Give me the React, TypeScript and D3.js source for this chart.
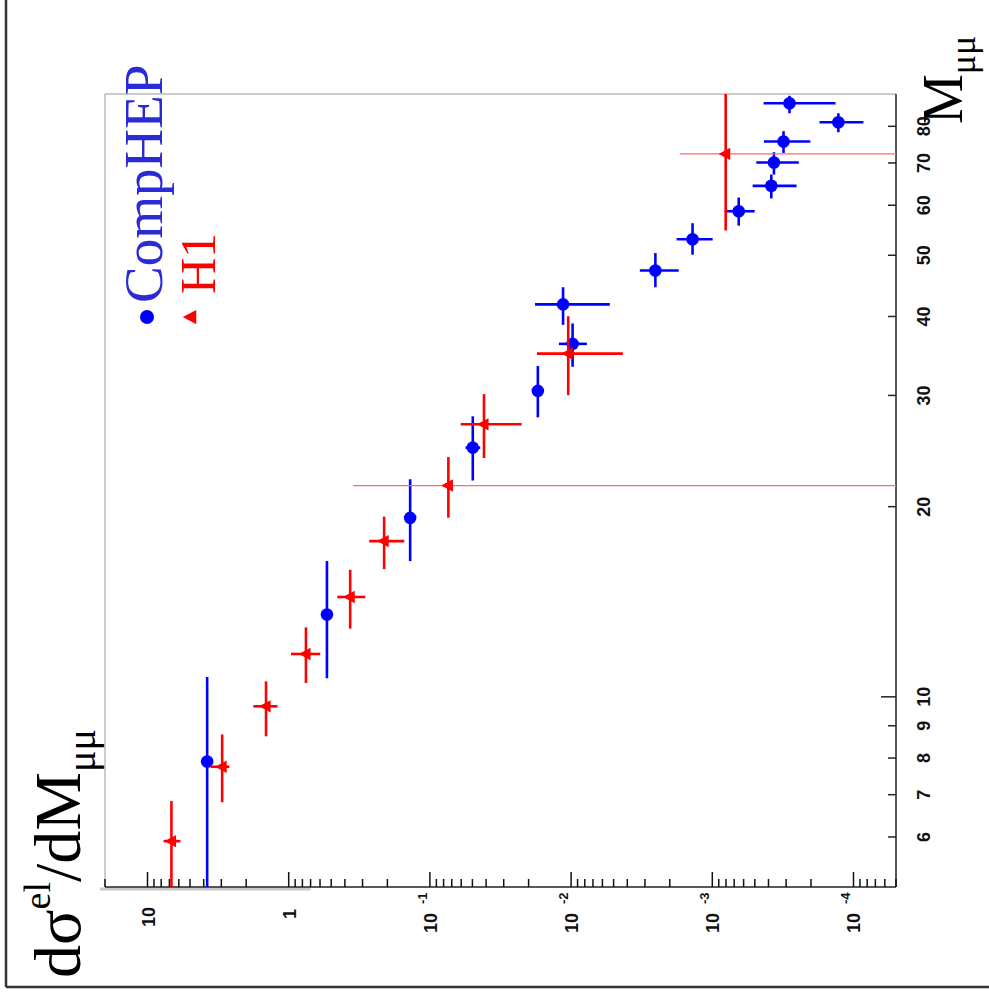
import { useEffect, useRef } from 'react';
import * as d3 from 'd3';

// CompHEP: M_mumu (bin centre and edges, GeV) and dsigma/dM with its errors
const compM = [7.9, 13.5, 19.2, 24.8, 30.5, 41.8, 36.2, 47.3, 53.0, 58.7, 64.4, 70.1, 75.7, 81.2, 87.0];
const compMLo = [4.5, 10.7, 16.4, 22.0, 27.7, 38.8, 33.3, 44.5, 50.1, 55.7, 61.5, 67.1, 72.6, 78.3, 83.9];
const compMHi = [10.75, 16.4, 22.1, 27.8, 33.4, 44.5, 39.0, 50.4, 56.2, 61.7, 67.1, 72.8, 78.6, 83.9, 89.4];
const compVal = [3.78, 0.536, 0.138, 0.0497, 0.0172, 0.0114, 0.00976, 0.00253, 0.00138, 0.00065, 0.000382, 0.000366, 0.000313, 0.000128, 0.000284];
const compValLo = [3.78, 0.536, 0.138, 0.044, 0.0172, 0.00532, 0.00773, 0.00173, 0.000994, 0.000501, 0.000253, 0.000244, 0.000202, 0.000085, 0.000134];
const compValHi = [3.78, 0.536, 0.138, 0.056, 0.0172, 0.018, 0.0122, 0.00326, 0.00179, 0.000817, 0.000518, 0.000488, 0.000431, 0.000174, 0.000433];

// H1 data
const h1M = [5.91, 7.75, 9.66, 11.69, 14.39, 17.64, 21.6, 27.0, 34.94, 72.35];
const h1MLo = [4.5, 6.81, 8.66, 10.52, 12.82, 15.93, 19.21, 23.88, 30.03, 54.73];
const h1MHi = [6.84, 8.72, 10.58, 12.88, 15.89, 19.29, 23.97, 30.14, 40.03, 100];
const h1Val = [6.77, 2.96, 1.447, 0.755, 0.367, 0.211, 0.074, 0.0414, 0.01048, 0.000804];
const h1ValLo = [5.84, 2.63, 1.2, 0.598, 0.287, 0.152, 0, 0.0224, 0.0043, 0];
const h1ValHi = [7.7, 3.585, 1.78, 0.963, 0.453, 0.269, 0.349, 0.0605, 0.01745, 0.0017];

// axis ticks
const mTicks = [6, 7, 8, 9, 10, 20, 30, 40, 50, 60, 70, 80];
const valTickExp = [1, 0, -1, -2, -3, -4];

const WIDTH = 989;
const HEIGHT = 1001;

export default function App() {
    const svgRef = useRef(null);

    useEffect(() => {
        const svg = d3.select(svgRef.current);
        svg.selectAll('*').remove();

        const left = 105, right = 896, top = 94, bottom = 887;

        // figure is turned on its side: dsigma/dM falls to the right, M rises upward
        const x = d3.scaleLog().domain([20, 5e-5]).range([left, right]).clamp(true);
        const y = d3.scaleLog().domain([5, 90]).range([bottom, top]).clamp(true);
        const px = (v) => x(Math.max(v, 1e-9));

        const blue = '#0000ff';
        const red = '#ff0000';

        svg.append('rect').attr('width', WIDTH).attr('height', HEIGHT).attr('fill', '#fff');

        // outer page frame (left and bottom only)
        svg.append('line').attr('x1', 6).attr('x2', 6).attr('y1', 0).attr('y2', 987)
            .attr('stroke', '#333').attr('stroke-width', 2.5);
        svg.append('line').attr('x1', 6).attr('x2', WIDTH).attr('y1', 987).attr('y2', 987)
            .attr('stroke', '#333').attr('stroke-width', 2.5);

        // plot frame
        svg.append('line').attr('x1', left).attr('x2', left).attr('y1', top).attr('y2', bottom)
            .attr('stroke', '#ccc').attr('stroke-width', 2);
        svg.append('line').attr('x1', left).attr('x2', right).attr('y1', top).attr('y2', top)
            .attr('stroke', '#999').attr('stroke-width', 1);
        svg.append('line').attr('x1', left - 5).attr('x2', x(0.7)).attr('y1', bottom + 2).attr('y2', bottom + 2)
            .attr('stroke', '#c8c8c8').attr('stroke-width', 3);
        svg.append('line').attr('x1', left).attr('x2', right).attr('y1', bottom).attr('y2', bottom)
            .attr('stroke', '#222').attr('stroke-width', 1.3);
        svg.append('line').attr('x1', right).attr('x2', right).attr('y1', top).attr('y2', bottom)
            .attr('stroke', '#222').attr('stroke-width', 1.5);

        // dsigma/dM axis ticks (bottom)
        const isDecade = (v) => Math.abs(Math.log10(v) - Math.round(Math.log10(v))) < 1e-6;
        svg.append('g').selectAll('line').data(x.ticks()).join('line')
            .attr('x1', (d) => x(d)).attr('x2', (d) => x(d))
            .attr('y1', bottom).attr('y2', (d) => bottom - (isDecade(d) ? 15 : 8))
            .attr('stroke', '#111').attr('stroke-width', 1.5);

        const valLabels = svg.append('g')
            .attr('font-family', '"Liberation Sans", Arial, sans-serif')
            .attr('font-weight', 'bold')
            .attr('fill', '#111');
        valTickExp.forEach((e) => {
            const cx = x(Math.pow(10, e)) + 7;
            if (e === 1 || e === 0) {
                valLabels.append('text')
                    .attr('transform', `translate(${cx},${e === 0 ? 914 : 917}) rotate(-90)`)
                    .attr('text-anchor', 'middle')
                    .attr('font-size', 18)
                    .text(e === 1 ? '10' : '1');
            } else {
                const t = valLabels.append('text')
                    .attr('transform', `translate(${cx},933) rotate(-90)`)
                    .attr('font-size', 18);
                t.append('tspan').text('10');
                t.append('tspan').attr('dx', 9).attr('dy', -10).attr('font-size', 13).text(`-${-e}`);
            }
        });

        // M axis ticks (right)
        svg.append('g').selectAll('line').data(mTicks).join('line')
            .attr('x1', right).attr('x2', (d) => right - (d === 10 ? 15 : 8))
            .attr('y1', (d) => y(d)).attr('y2', (d) => y(d))
            .attr('stroke', '#222').attr('stroke-width', 1.5);
        svg.append('g').selectAll('text').data(mTicks).join('text')
            .attr('transform', (d) => `translate(930,${y(d)}) rotate(-90)`)
            .attr('text-anchor', 'middle')
            .attr('font-family', '"Liberation Sans", Arial, sans-serif')
            .attr('font-weight', 'bold')
            .attr('font-size', 18)
            .attr('fill', '#111')
            .text((d) => d);

        // error bars
        const drawBars = (ms, mLo, mHi, vals, vLo, vHi, color) => {
            const g = svg.append('g');
            ms.forEach((m, i) => {
                g.append('line')
                    .attr('x1', px(vals[i])).attr('x2', px(vals[i]))
                    .attr('y1', y(mLo[i])).attr('y2', y(mHi[i]))
                    .attr('stroke', color).attr('stroke-width', 2.6);
                const open = vLo[i] === 0;
                g.append('line')
                    .attr('x1', px(vHi[i])).attr('x2', px(vLo[i]))
                    .attr('y1', y(m)).attr('y2', y(m))
                    .attr('stroke', open ? '#ff6a6a' : color)
                    .attr('stroke-width', open ? 1.3 : 2.6);
            });
            return g;
        };

        drawBars(compM, compMLo, compMHi, compVal, compValLo, compValHi, blue)
            .selectAll('circle').data(compM).join('circle')
            .attr('cx', (d, i) => px(compVal[i]))
            .attr('cy', (d) => y(d))
            .attr('r', 6.3)
            .attr('fill', blue);

        const tri = (cx, cy, s) => `M${cx - s * 1.1},${cy}L${cx + s * 0.7},${cy - s * 0.95}L${cx + s * 0.7},${cy + s * 0.95}Z`;
        drawBars(h1M, h1MLo, h1MHi, h1Val, h1ValLo, h1ValHi, red)
            .selectAll('path').data(h1M).join('path')
            .attr('d', (d, i) => tri(px(h1Val[i]), y(d), 6.5))
            .attr('fill', red);

        // legend
        svg.append('circle').attr('cx', 147).attr('cy', 317).attr('r', 7).attr('fill', blue);
        svg.append('text')
            .attr('transform', 'translate(162,303) rotate(-90)')
            .attr('font-family', '"Liberation Serif", "Times New Roman", serif')
            .attr('font-size', 55)
            .attr('fill', '#2a2ad6')
            .text('CompHEP');
        svg.append('path').attr('d', tri(191, 317, 7.5)).attr('fill', red);
        svg.append('text')
            .attr('transform', 'translate(215,294) rotate(-90)')
            .attr('font-family', '"Liberation Serif", "Times New Roman", serif')
            .attr('font-size', 50)
            .attr('fill', red)
            .text('H1');

        // axis titles
        const yTitle = svg.append('text')
            .attr('transform', 'translate(80,978) rotate(-90)')
            .attr('font-family', '"Liberation Serif", "Times New Roman", serif')
            .attr('font-size', 66)
            .attr('fill', '#000');
        yTitle.append('tspan').text('dσ');
        yTitle.append('tspan').attr('dy', -30).attr('font-size', 38).text('el');
        yTitle.append('tspan').attr('dy', 30).text('/dM');
        yTitle.append('tspan').attr('dy', 15).attr('font-size', 40).text('μμ');

        const mTitle = svg.append('text')
            .attr('transform', 'translate(962,124) rotate(-90)')
            .attr('font-family', '"Liberation Serif", "Times New Roman", serif')
            .attr('font-size', 56)
            .attr('fill', '#000');
        mTitle.append('tspan').text('M');
        mTitle.append('tspan').attr('dy', 13).attr('font-size', 36).text('μμ');
    }, []);

    return (
        <div style={{ position: 'absolute', left: 0, top: 0 }}>
            <svg ref={svgRef} width={WIDTH} height={HEIGHT} style={{ display: 'block' }} />
        </div>
    );
}
